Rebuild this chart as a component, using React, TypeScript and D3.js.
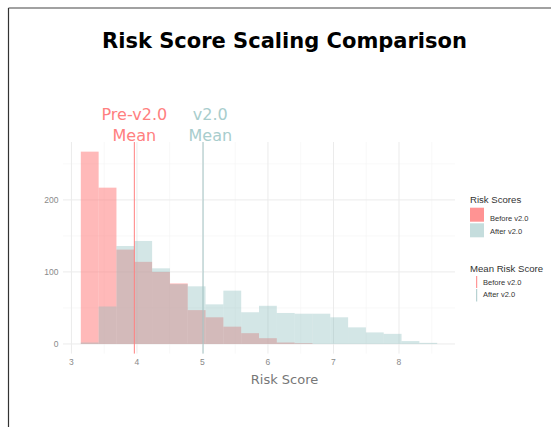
import React from 'react';
import * as d3 from 'd3';

// histogram bin edges (risk score)
const binEdges = [
  3.143, 3.415, 3.687, 3.959, 4.231, 4.503, 4.775, 5.047, 5.319, 5.591, 5.863,
  6.135, 6.407, 6.679, 6.951, 7.223, 7.495, 7.767, 8.039, 8.311, 8.583,
];
const beforeCounts = [267, 217, 131, 114, 100, 84, 47, 37, 24, 15, 8, 2, 1, 0, 0, 0, 0, 0, 0, 0];
const afterCounts = [2, 52, 136, 143, 105, 83, 80, 55, 74, 44, 53, 43, 42, 42, 37, 23, 16, 14, 4, 1.5];
const means = { before: 3.96, after: 5.01 };
const xTicks = [3, 4, 5, 6, 7, 8];
const xMinor = [3.5, 4.5, 5.5, 6.5, 7.5, 8.5];
const yTicks = [0, 100, 200];
const yMinor = [50, 150, 250];

const RED = '#ff8080';
const TEAL = '#8cbcbc';

const App: React.FC = () => {
  const panel = { left: 63, right: 455, top: 142, bottom: 353.6 };

  const x = d3.scaleLinear().domain([2.871, 8.855]).range([panel.left, panel.right]);
  const y = d3.scaleLinear().domain([-13.4, 280.4]).range([panel.bottom, panel.top]);

  const bars = (counts: number[], color: string, opacity: number) =>
    counts.map((c, i) =>
      c > 0 ? (
        <rect
          key={i}
          x={x(binEdges[i])}
          width={x(binEdges[i + 1]) - x(binEdges[i])}
          y={y(c)}
          height={y(0) - y(c)}
          fill={color}
          fillOpacity={opacity}
        />
      ) : null
    );

  const sans = 'Liberation Sans, Arial, sans-serif';
  const deja = 'DejaVu Sans, Verdana, sans-serif';

  return (
    <svg width={551} height={427} style={{ position: 'absolute', left: 0, top: 0 }}>
      <rect width={551} height={427} fill='#fff' />
      <line x1={8.5} x2={551} y1={8} y2={8} stroke='#444' strokeWidth={1.2} />
      <line x1={8.5} x2={8.5} y1={8} y2={427} stroke='#333' strokeWidth={1.2} />

      <text x={284.5} y={48} textAnchor='middle' fontFamily={deja} fontWeight='bold' fontSize={21} fill='#000'>
        Risk Score Scaling Comparison
      </text>

      {/* grid */}
      {yMinor.map((v) => (
        <line key={'ym' + v} x1={panel.left} x2={panel.right} y1={y(v)} y2={y(v)} stroke='#f3f3f3' strokeWidth={0.6} />
      ))}
      {xMinor.map((v) => (
        <line key={'xm' + v} x1={x(v)} x2={x(v)} y1={panel.top} y2={panel.bottom} stroke='#f3f3f3' strokeWidth={0.6} />
      ))}
      {yTicks.map((v) => (
        <line key={'y' + v} x1={panel.left} x2={panel.right} y1={y(v)} y2={y(v)} stroke='#ebebeb' strokeWidth={1} />
      ))}
      {xTicks.map((v) => (
        <line key={'x' + v} x1={x(v)} x2={x(v)} y1={panel.top} y2={panel.bottom} stroke='#ebebeb' strokeWidth={1} />
      ))}

      {/* histograms */}
      <g>{bars(beforeCounts, RED, 0.55)}</g>
      <g>{bars(afterCounts, TEAL, 0.38)}</g>

      {/* mean lines */}
      <line x1={x(means.before)} x2={x(means.before)} y1={panel.top} y2={panel.bottom} stroke={RED} strokeWidth={1} />
      <line x1={x(means.after)} x2={x(means.after)} y1={panel.top} y2={panel.bottom} stroke='#a8c8c8' strokeWidth={1} />

      <g fontFamily={deja} fontSize={16} textAnchor='middle'>
        <text x={x(means.before)} y={120} fill={RED}>Pre-v2.0</text>
        <text x={x(means.before)} y={140.5} fill={RED}>Mean</text>
        <text x={x(means.after + 0.11)} y={120} fill='#a8cdcd'>v2.0</text>
        <text x={x(means.after + 0.11)} y={140.5} fill='#a8cdcd'>Mean</text>
      </g>

      {/* axes labels */}
      <g fontFamily={sans} fontSize={8.5} fill='#8a8a8a'>
        {yTicks.map((v) => (
          <text key={v} x={58.5} y={y(v)} dy='0.35em' textAnchor='end'>{v}</text>
        ))}
        {xTicks.map((v) => (
          <text key={v} x={x(v)} y={365} textAnchor='middle'>{v}</text>
        ))}
      </g>
      <text x={284.5} y={384} textAnchor='middle' fontFamily={deja} fontSize={13} fill='#777'>
        Risk Score
      </text>

      {/* legend */}
      <g fontFamily={sans} fill='#333'>
        <text x={470} y={203} fontSize={9.6}>Risk Scores</text>
        <rect x={470} y={207.7} width={14} height={14} fill={RED} fillOpacity={0.85} />
        <rect x={470} y={223.3} width={14} height={14} fill={TEAL} fillOpacity={0.5} />
        <text x={490} y={220.5} fontSize={7.5}>Before v2.0</text>
        <text x={490} y={234} fontSize={7.5}>After v2.0</text>

        <text x={470} y={272.3} fontSize={9.6}>Mean Risk Score</text>
        <line x1={476.7} x2={476.7} y1={276} y2={288} stroke={RED} strokeWidth={1} />
        <line x1={476.7} x2={476.7} y1={289} y2={301.5} stroke='#a8c8c8' strokeWidth={1} />
        <text x={483} y={284.5} fontSize={7.5}>Before v2.0</text>
        <text x={483} y={297} fontSize={7.5}>After v2.0</text>
      </g>
    </svg>
  );
};

export default App;
